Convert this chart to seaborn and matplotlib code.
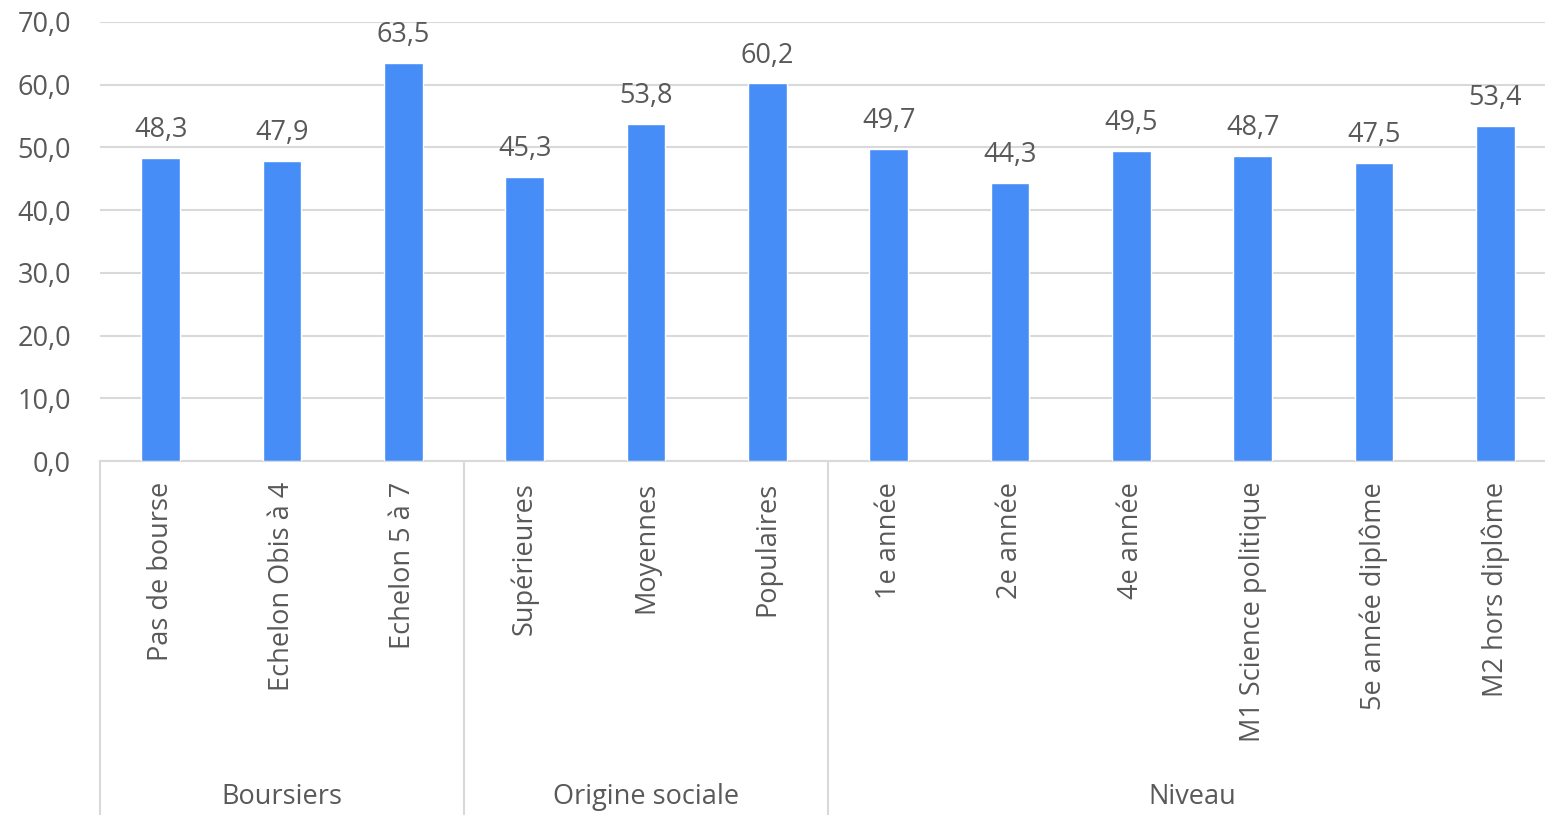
import matplotlib
matplotlib.use("Agg")
import matplotlib.pyplot as plt
import matplotlib.transforms as mtransforms
from matplotlib.ticker import FuncFormatter, MultipleLocator
import seaborn as sns
import pandas as pd

# Data
groups = ["Boursiers", "Origine sociale", "Niveau"]
group_sizes = [3, 3, 6]
categories = [
    "Pas de bourse", "Echelon Obis à 4", "Echelon 5 à 7",
    "Supérieures", "Moyennes", "Populaires",
    "1e année", "2e année", "4e année", "M1 Science politique",
    "5e année diplôme", "M2 hors diplôme",
]
values = [48.3, 47.9, 63.5, 45.3, 53.8, 60.2, 49.7, 44.3, 49.5, 48.7, 47.5, 53.4]

df = pd.DataFrame({"categorie": categories, "valeur": values})

sns.set_theme(style="white")
plt.rcParams["font.family"] = ["Open Sans", "DejaVu Sans"]

BAR = "#478DF7"
TXT = "#595959"
LINE = "#D9D9D9"
FS = 19.5

fig = plt.figure(figsize=(15.45, 8.15), dpi=100)
ax = fig.add_axes([100 / 1545, 354 / 815, 1456 / 1545, 439 / 815])

sns.barplot(data=df, x="categorie", y="valeur", color=BAR, width=0.32,
            saturation=1, ax=ax, zorder=3)

ax.set_ylim(0, 70)
ax.set_xlim(-0.5, len(categories) - 0.5)
ax.yaxis.set_major_locator(MultipleLocator(10))
ax.yaxis.set_major_formatter(FuncFormatter(lambda v, p: f"{v:.1f}".replace(".", ",")))
ax.grid(axis="y", color=LINE, linewidth=1.5, zorder=0)
ax.set_axisbelow(True)

for s in ["top", "right", "left"]:
    ax.spines[s].set_visible(False)
ax.spines["bottom"].set_color(LINE)
ax.spines["bottom"].set_linewidth(1.5)

ax.tick_params(axis="y", length=0, pad=21, labelsize=FS, labelcolor=TXT)
ax.tick_params(axis="x", length=0, pad=15, labelsize=FS, labelcolor=TXT)
ax.set_xticks(range(len(categories)))
ax.set_xticklabels(categories, rotation=90)
ax.set_xlabel("")
ax.set_ylabel("")

# Value labels above bars
for cont in ax.containers:
    ax.bar_label(cont, labels=[f"{v:.1f}".replace(".", ",") for v in values],
                 padding=10, fontsize=FS, color=TXT)

# Group separators and group labels below the category labels
trans = mtransforms.blended_transform_factory(ax.transData, ax.transAxes)
bottom = -354 / 439
start = 0
bounds = [-0.5]
for g, n in zip(groups, group_sizes):
    end = start + n
    bounds.append(end - 0.5)
    ax.text((start + end - 1) / 2, -336 / 439, g, transform=trans,
            ha="center", va="center", fontsize=FS, color=TXT)
    start = end
for b in bounds:
    ax.plot([b, b], [0, bottom], transform=trans, color=LINE, linewidth=1.5,
            clip_on=False)

fig.savefig("out.png", dpi=100)
